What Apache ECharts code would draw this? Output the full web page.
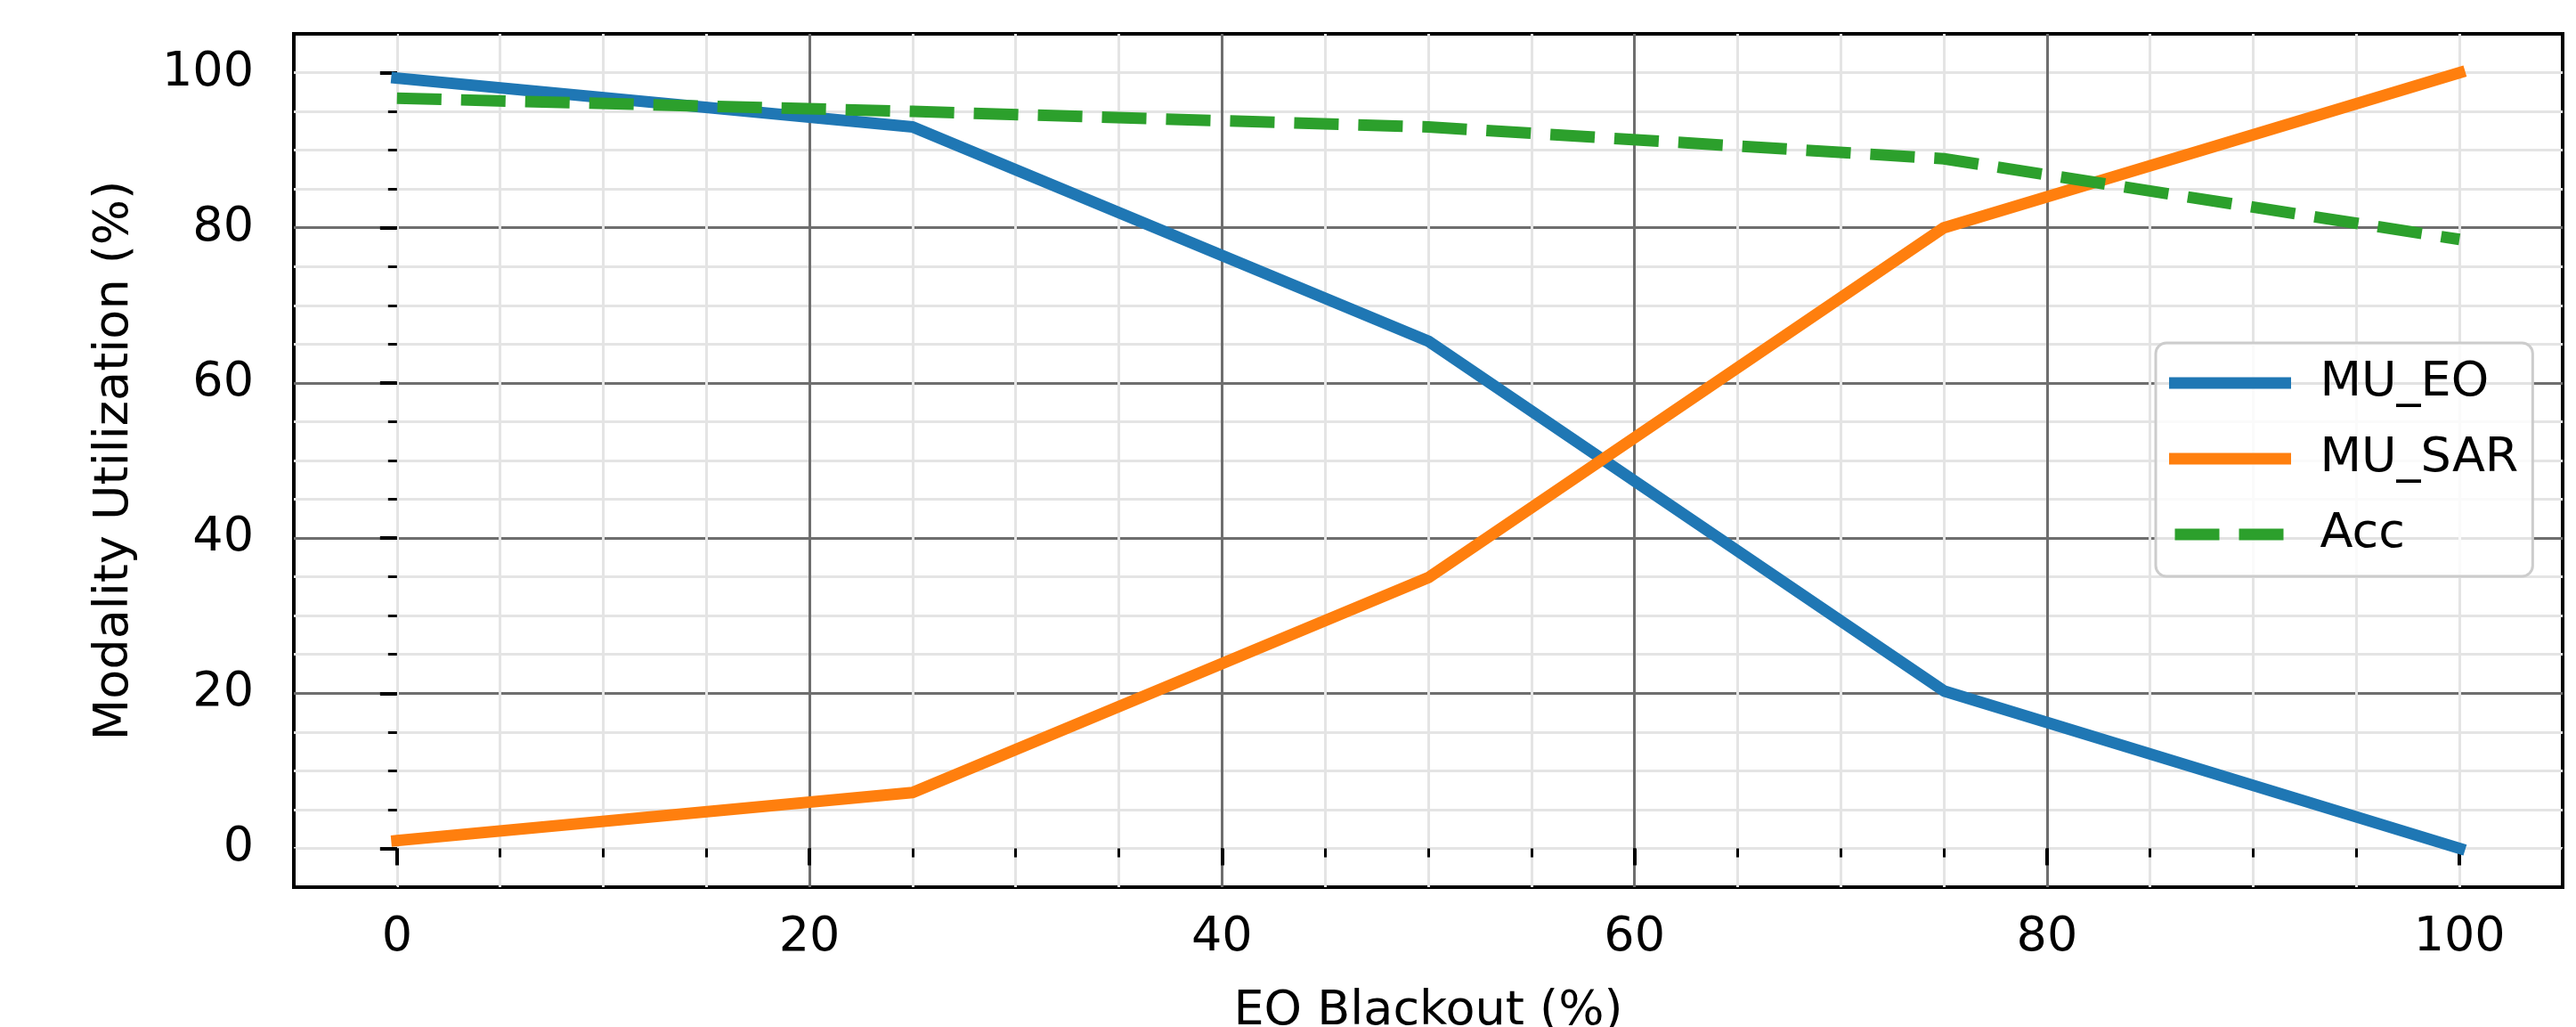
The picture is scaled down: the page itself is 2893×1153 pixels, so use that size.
<!DOCTYPE html>
<html>
<head>
<meta charset="utf-8">
<script src="https://cdn.jsdelivr.net/npm/echarts@6/dist/echarts.min.js"></script>
<style>
html,body{margin:0;padding:0;background:#fff;}
#chart{width:2893px;height:1153px;}
</style>
</head>
<body>
<div id="chart"></div>
<script>
// ---- data ----
const blackout = [0, 25, 50, 75, 100];
const muEO = [99.3, 93.0, 65.4, 20.3, 0.0];
const muSAR = [1.0, 7.2, 34.9, 80.0, 100.0];
const acc = [96.7, 95.0, 93.0, 88.9, 78.5];
const majorTicks = [0, 20, 40, 60, 80, 100];
const seriesNames = ['MU_EO', 'MU_SAR', 'Acc'];
const xTitle = 'EO Blackout (%)';
const yTitle = 'Modality Utilization (%)';

const FONT = 'DejaVu Sans';
const FS = 54;
const pair = (xs, ys) => xs.map((x, i) => [x, ys[i]]);

const minorAxis = {
  type: 'value', min: -5, max: 105, interval: 5,
  axisLine: {show: false},
  axisTick: {show: true, length: 10, lineStyle: {color: '#000', width: 3}},
  axisLabel: {show: false},
  splitLine: {show: true, showMinLine: false, showMaxLine: false, lineStyle: {color: '#e4e4e4', width: 3}}
};
function majorAxis(extra) {
  return Object.assign({
    type: 'value', min: -5, max: 105,
    axisLine: {show: false},
    axisTick: {show: true, length: 19, customValues: majorTicks, lineStyle: {color: '#000', width: 4}},
    splitLine: {show: true, showMinLine: false, showMaxLine: false, lineStyle: {color: '#6e6e6e', width: 3}},
    nameLocation: 'middle',
    nameTextStyle: {color: '#000', fontFamily: FONT, fontSize: FS}
  }, extra);
}

const chart = echarts.init(document.getElementById('chart'), null, {renderer: 'canvas'});
chart.setOption({
  animation: false,
  backgroundColor: '#fff',
  grid: {left: 330, right: 15, top: 38, bottom: 157, show: true, borderColor: '#000', borderWidth: 4,
    backgroundColor: 'transparent', containLabel: false, outerBoundsMode: 'none'},
  xAxis: [
    Object.assign({position: 'bottom'}, minorAxis),
    majorAxis({position: 'bottom', name: xTitle, nameGap: 113,
      axisLabel: {show: true, customValues: majorTicks, color: '#000', fontFamily: FONT, fontSize: FS, margin: 30}})
  ],
  yAxis: [
    Object.assign({position: 'left'}, minorAxis),
    majorAxis({position: 'left', name: yTitle, nameGap: 174, nameRotate: 90,
      axisLabel: {show: true, customValues: majorTicks, color: '#000', fontFamily: FONT, fontSize: FS, margin: 45}})
  ],
  legend: {
    orient: 'vertical', left: 2421, top: 385,
    data: seriesNames,
    itemWidth: 124, itemHeight: 13, itemGap: 31,
    padding: [18, 16, 20, 15],
    backgroundColor: 'rgba(255,255,255,0.8)',
    borderColor: '#cccccc', borderWidth: 3, borderRadius: 12,
    textStyle: {color: '#000', fontFamily: FONT, fontSize: FS, padding: [0, 0, 0, 34]},
    itemStyle: {opacity: 0},
    lineStyle: {width: 13},
    selectedMode: false
  },
  series: [
    {name: seriesNames[0], type: 'line', data: pair(blackout, muEO), symbol: 'none', z: 3,
      lineStyle: {color: '#1f77b4', width: 13, cap: 'square', join: 'round'}, itemStyle: {color: '#1f77b4'}},
    {name: seriesNames[1], type: 'line', data: pair(blackout, muSAR), symbol: 'none', z: 3,
      lineStyle: {color: '#ff7f0e', width: 13, cap: 'square', join: 'round'}, itemStyle: {color: '#ff7f0e'}},
    {name: seriesNames[2], type: 'line', data: pair(blackout, acc), symbol: 'none', z: 3,
      lineStyle: {color: '#2ca02c', width: 13, type: [50, 22], cap: 'butt', join: 'round'}, itemStyle: {color: '#2ca02c'}}
  ]
});
</script>
</body>
</html>
